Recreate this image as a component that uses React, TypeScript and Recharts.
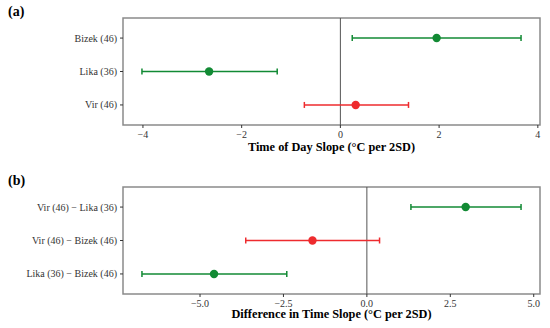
import { ScatterChart, Scatter, XAxis, YAxis, ErrorBar, ReferenceLine, ReferenceArea, Label } from "recharts";

const labelsA = ["Bizek (46)", "Lika (36)", "Vir (46)"];
const estimateA = [1.95, -2.66, 0.31];
const lowerA = [0.24, -4.02, -0.73];
const upperA = [3.66, -1.28, 1.38];
const sigA = [true, true, false];
const ticksA = [-4, -2, 0, 2, 4];

const labelsB = ["Vir (46) − Lika (36)", "Vir (46) − Bizek (46)", "Lika (36) − Bizek (46)"];
const estimateB = [2.96, -1.63, -4.58];
const lowerB = [1.32, -3.63, -6.74];
const upperB = [4.62, 0.38, -2.4];
const sigB = [true, false, true];
const ticksB = [-5, -2.5, 0, 2.5, 5];

const GREEN = "#128a34";
const RED = "#ee2b2e";
const FONT = "Liberation Serif";

interface PanelProps {
  labels: string[];
  estimate: number[];
  lower: number[];
  upper: number[];
  sig: boolean[];
  ticks: number[];
  decimals: number;
  title: string;
  top: number;
}

function fmt(v: number, d: number) {
  const s = Math.abs(v).toFixed(d);
  return v < 0 ? "\u2212" + s : s;
}

function Panel({ labels, estimate, lower, upper, sig, ticks, decimals, title, top }: PanelProps) {
  const n = labels.length;
  const rows = labels.map((label, i) => ({
    label,
    x: estimate[i],
    y: n - i,
    err: [estimate[i] - lower[i], upper[i] - estimate[i]],
    sig: sig[i],
  }));
  // ggplot-style 5% expansion
  const lo = Math.min(...lower);
  const hi = Math.max(...upper);
  const pad = (hi - lo) * 0.05;
  const domain = [lo - pad, hi + pad];
  const yDomain = [0.4, n + 0.6];

  const dot = (color: string) => (props: any) => <circle cx={props.cx} cy={props.cy} r={4.2} fill={color} />;

  const xTick = (props: any) => (
    <text x={props.x} y={props.y} dy={7.5} textAnchor="middle" fontSize={10} fill="#333" fontFamily={FONT}>
      {fmt(props.payload.value, decimals)}
    </text>
  );
  const yTick = (props: any) => (
    <text x={props.x} y={props.y} dy={3.5} textAnchor="end" fontSize={10} fill="#333" fontFamily={FONT}>
      {labels[n - props.payload.value]}
    </text>
  );

  return (
    <ScatterChart width={550} height={164} margin={{ top, right: 10, left: 0, bottom: 0 }}>
      <XAxis
        type="number"
        dataKey="x"
        domain={domain}
        ticks={ticks}
        axisLine={false}
        tickSize={3}
        tickMargin={2}
        height={164 - top - 107}
        tick={xTick}
        tickLine={{ stroke: "#333" }}
      >
        <Label
          value={title}
          position="insideBottom"
          offset={top === 18 ? 13 : 10}
          style={{ fontSize: 12.3, fontWeight: "bold", fill: "#000", fontFamily: FONT }}
        />
      </XAxis>
      <YAxis
        type="number"
        dataKey="y"
        domain={yDomain}
        ticks={rows.map((r) => r.y)}
        axisLine={false}
        width={123}
        tickSize={3}
        tickMargin={3}
        tick={yTick}
        tickLine={{ stroke: "#333" }}
      />
      <ReferenceArea x1={domain[0]} x2={domain[1]} y1={yDomain[0]} y2={yDomain[1]} fill="none" stroke="#8a8a8a" strokeWidth={1.5} />
      <ReferenceLine x={0} stroke="#555" strokeWidth={1} />
      <Scatter data={rows.filter((r) => r.sig)} shape={dot(GREEN)} isAnimationActive={false}>
        <ErrorBar dataKey="err" direction="x" width={3} stroke={GREEN} strokeWidth={1.5} />
      </Scatter>
      <Scatter data={rows.filter((r) => !r.sig)} shape={dot(RED)} isAnimationActive={false}>
        <ErrorBar dataKey="err" direction="x" width={3} stroke={RED} strokeWidth={1.5} />
      </Scatter>
    </ScatterChart>
  );
}

export default function App() {
  const tag = { position: "absolute" as const, left: 8, fontSize: 14, fontWeight: "bold" as const, fontFamily: FONT };
  return (
    <div style={{ position: "absolute", left: 0, top: 0, width: 550, height: 328, background: "#fff", fontFamily: FONT }}>
      <div style={{ ...tag, top: 4 }}>(a)</div>
      <div style={{ ...tag, top: 173 }}>(b)</div>
      <Panel labels={labelsA} estimate={estimateA} lower={lowerA} upper={upperA} sig={sigA} ticks={ticksA} decimals={0} title="Time of Day Slope (°C per 2SD)" top={18} />
      <Panel labels={labelsB} estimate={estimateB} lower={lowerB} upper={upperB} sig={sigB} ticks={ticksB} decimals={1} title="Difference in Time Slope (°C per 2SD)" top={23} />
    </div>
  );
}
